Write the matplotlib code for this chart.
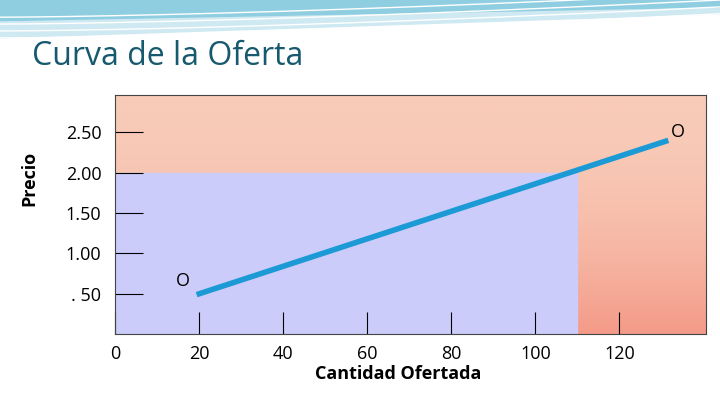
import matplotlib.pyplot as plt
import numpy as np
from matplotlib.colors import LinearSegmentedColormap

plt.rcParams['font.family'] = ['Open Sans', 'DejaVu Sans']

x_ticks = [0, 20, 40, 60, 80, 100, 120]
y_ticks = [0.5, 1.0, 1.5, 2.0, 2.5]
y_labels = ['. 50', '1.00', '1.50', '2.00', '2.50']
supply_q = [20, 131]
supply_p = [0.5, 2.39]
blue_q = 110
blue_p = 2.0

fig = plt.figure(figsize=(7.2, 4.05), dpi=100)
fig.patch.set_facecolor('white')

# header waves
hdr = fig.add_axes([0, 0.83, 1, 0.17])
hdr.set_xlim(0, 1); hdr.set_ylim(0, 1); hdr.axis('off')
t = np.linspace(0, 1, 200)
hdr.fill_between(t, 0.45 + 0.35 * t, 1, color='#cfe9f2')
hdr.fill_between(t, 0.7 + 0.2 * t, 1, color='#8fcde0')
for k in range(5):
    hdr.plot(t, 0.35 + 0.1 * k + 0.35 * t ** 1.5, color='white', lw=1)
fig.text(0.045, 0.84, 'Curva de la Oferta', fontsize=23, color='#17596e')

ax = fig.add_axes([0.16, 0.175, 0.82, 0.59])
ax.set_xlim(0, 140.5)
ax.set_ylim(0, 2.96)
cmap = LinearSegmentedColormap.from_list('bg', ['#f8cbb8', '#f49a88'])
ax.imshow(np.linspace(0, 1, 100).reshape(-1, 1) ** 2, extent=[0, 140.5, 0, 2.96],
          aspect='auto', cmap=cmap, origin='upper', zorder=0)
ax.add_patch(plt.Rectangle((0, 0), blue_q, blue_p, color='#ccccfa', zorder=1))
ax.plot(supply_q, supply_p, color='#1b9ad6', lw=4, zorder=3)
ax.text(16, 0.55, 'O', fontsize=13, ha='center', va='bottom')
ax.text(134, 2.5, 'O', fontsize=13, ha='center', va='center')

ax.set_xticks(x_ticks)
ax.set_xticklabels([str(v) for v in x_ticks], fontsize=13)
ax.set_yticks(y_ticks)
ax.set_yticklabels(y_labels, fontsize=13)
ax.tick_params(axis='y', direction='in', length=20, pad=10)
ax.tick_params(axis='x', direction='in', length=16, pad=8)
for s in ax.spines.values():
    s.set_color('#444444')
ax.set_xlabel('Cantidad Ofertada', fontsize=13, fontweight='bold', labelpad=-6)
ax.xaxis.set_label_coords(0.48, -0.13)
ax.set_ylabel('Precio', fontsize=13, fontweight='bold')
ax.yaxis.set_label_coords(-0.13, 0.65)

fig.savefig('out.png', dpi=100)
